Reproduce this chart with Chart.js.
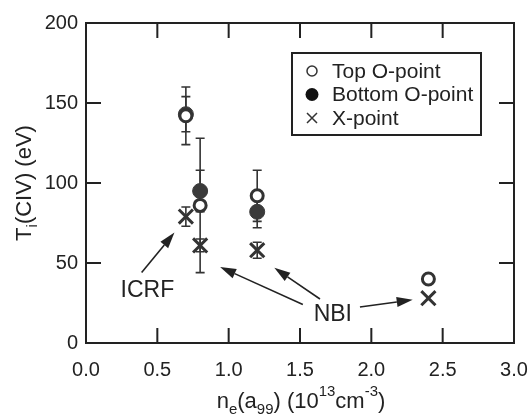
<!DOCTYPE html>
<html>
<head>
<meta charset="utf-8">
<script src="https://cdn.jsdelivr.net/npm/chart.js@4/dist/chart.umd.min.js"></script>
<style>
  body { margin: 0; background: #fff; }
</style>
</head>
<body>
<canvas id="myChart" width="531" height="414"></canvas>
<script>
// values: density (1e13 cm^-3) vs Ti(CIV) (eV)
let topX = [0.7, 0.8, 1.2, 2.4]
let topY = [142, 86, 92, 40]
let topErr = [18, 42, 16, 0]

let bottomX = [0.7, 0.8, 1.2]
let bottomY = [143, 95, 82]
let bottomErr = [11, 13, 10]

let xpX = [0.7, 0.8, 1.2, 2.4]
let xpY = [79, 61, 58, 28]
let xpErr = [6, 4, 5, 0]

let legendLabels = ["Top O-point", "Bottom O-point", "X-point"]
let yTicks = [0, 50, 100, 150, 200]

// annotation labels and arrows, in data units
let notes = [
    { text: "ICRF", x: 0.43, y: 33 },
    { text: "NBI", x: 1.73, y: 18 }
]
let arrows = [
    { from: [0.39, 44], to: [0.62, 69] },
    { from: [1.52, 24], to: [0.94, 47.5] },
    { from: [1.64, 27.5], to: [1.32, 47] },
    { from: [1.92, 22.5], to: [2.29, 27] }
]

const ink = '#222'
const markColor = '#333'
const FONT = '"Liberation Sans", Arial, sans-serif'

function pts(xs, ys) {
    return xs.map((x, i) => ({ x: x, y: ys[i] }))
}

function drawRich(ctx, parts, cx, cy, size) {
    let widths = parts.map(p => {
        ctx.font = `${p.s ? size * 0.68 : size}px ${FONT}`
        return ctx.measureText(p.t).width
    })
    let total = widths.reduce((a, b) => a + b, 0)
    let x = cx - total / 2
    ctx.textBaseline = 'middle'
    ctx.textAlign = 'left'
    parts.forEach((p, i) => {
        ctx.font = `${p.s ? size * 0.68 : size}px ${FONT}`
        let dy = p.s == 1 ? -size * 0.45 : (p.s == -1 ? size * 0.35 : 0)
        ctx.fillText(p.t, x, cy + dy)
        x += widths[i]
    })
}

function drawArrow(ctx, x1, y1, x2, y2) {
    let ang = Math.atan2(y2 - y1, x2 - x1)
    let len = 16, half = 5
    let bx = x2 - len * Math.cos(ang), by = y2 - len * Math.sin(ang)
    ctx.beginPath()
    ctx.moveTo(x1, y1)
    ctx.lineTo(bx, by)
    ctx.stroke()
    ctx.beginPath()
    ctx.moveTo(x2, y2)
    ctx.lineTo(bx + half * Math.sin(ang), by - half * Math.cos(ang))
    ctx.lineTo(bx - half * Math.sin(ang), by + half * Math.cos(ang))
    ctx.closePath()
    ctx.fill()
}

const overlay = {
    id: 'overlay',
    beforeDatasetsDraw(chart) {
        let ctx = chart.ctx
        let xs = chart.scales.x, ys = chart.scales.y
        let sets = [[topX, topY, topErr], [bottomX, bottomY, bottomErr], [xpX, xpY, xpErr]]
        ctx.save()
        ctx.strokeStyle = markColor
        ctx.lineWidth = 1.6
        sets.forEach(s => {
            s[0].forEach((x, i) => {
                if (!s[2][i]) return
                let px = xs.getPixelForValue(x)
                let hi = ys.getPixelForValue(s[1][i] + s[2][i])
                let lo = ys.getPixelForValue(s[1][i] - s[2][i])
                ctx.beginPath()
                ctx.moveTo(px, hi); ctx.lineTo(px, lo)
                ctx.moveTo(px - 4.5, hi); ctx.lineTo(px + 4.5, hi)
                ctx.moveTo(px - 4.5, lo); ctx.lineTo(px + 4.5, lo)
                ctx.stroke()
            })
        })
        ctx.restore()
    },
    afterDraw(chart) {
        let ctx = chart.ctx
        let a = chart.chartArea
        let xs = chart.scales.x, ys = chart.scales.y
        ctx.save()

        // frame + inward ticks on all four sides
        ctx.strokeStyle = ink
        ctx.lineWidth = 2
        ctx.strokeRect(a.left, a.top, a.right - a.left, a.bottom - a.top)
        ctx.beginPath()
        xs.ticks.forEach(t => {
            let px = xs.getPixelForValue(t.value)
            ctx.moveTo(px, a.bottom); ctx.lineTo(px, a.bottom - 15)
            ctx.moveTo(px, a.top); ctx.lineTo(px, a.top + 15)
        })
        yTicks.forEach(v => {
            let py = ys.getPixelForValue(v)
            ctx.moveTo(a.left, py); ctx.lineTo(a.left + 15, py)
            ctx.moveTo(a.right, py); ctx.lineTo(a.right - 15, py)
        })
        ctx.stroke()

        // axis titles
        ctx.fillStyle = ink
        drawRich(ctx, [
            { t: 'n' }, { t: 'e', s: -1 }, { t: '(a' }, { t: '99', s: -1 },
            { t: ') (10' }, { t: '13', s: 1 }, { t: 'cm' }, { t: '-3', s: 1 }, { t: ')' }
        ], 301, 402, 22)
        ctx.save()
        ctx.translate(25, 183)
        ctx.rotate(-Math.PI / 2)
        drawRich(ctx, [{ t: 'T' }, { t: 'i', s: -1 }, { t: '(CIV) (eV)' }], 0, 0, 22)
        ctx.restore()

        // annotations
        ctx.font = `23px ${FONT}`
        ctx.textAlign = 'center'
        ctx.textBaseline = 'middle'
        notes.forEach(n => {
            ctx.fillText(n.text, xs.getPixelForValue(n.x), ys.getPixelForValue(n.y))
        })
        ctx.strokeStyle = ink
        ctx.lineWidth = 1.6
        arrows.forEach(r => {
            drawArrow(ctx,
                xs.getPixelForValue(r.from[0]), ys.getPixelForValue(r.from[1]),
                xs.getPixelForValue(r.to[0]), ys.getPixelForValue(r.to[1]))
        })

        // legend box
        let lx = 292, ly = 53
        ctx.lineWidth = 2
        ctx.strokeStyle = ink
        ctx.strokeRect(lx, ly, 189, 82)
        ctx.font = `21px ${FONT}`
        ctx.textAlign = 'left'
        legendLabels.forEach((lab, i) => {
            let cy = ly + 18 + i * 23.5
            let sx = lx + 20
            ctx.fillStyle = ink
            ctx.fillText(lab, lx + 40, cy + 1)
            ctx.strokeStyle = markColor
            ctx.lineWidth = 1.5
            ctx.beginPath()
            if (i == 0) {
                ctx.arc(sx, cy, 5, 0, Math.PI * 2)
                ctx.stroke()
            } else if (i == 1) {
                ctx.fillStyle = '#111'
                ctx.arc(sx, cy, 6.5, 0, Math.PI * 2)
                ctx.fill()
            } else {
                ctx.moveTo(sx - 5, cy - 5); ctx.lineTo(sx + 5, cy + 5)
                ctx.moveTo(sx + 5, cy - 5); ctx.lineTo(sx - 5, cy + 5)
                ctx.stroke()
            }
        })
        ctx.restore()
    }
}

new Chart("myChart", {
    type: "scatter",
    data: {
        datasets: [{
            label: legendLabels[0],
            data: pts(topX, topY),
            pointStyle: 'circle',
            pointRadius: 6,
            backgroundColor: '#fff',
            borderColor: markColor,
            pointBorderWidth: 3
        }, {
            label: legendLabels[1],
            data: pts(bottomX, bottomY),
            pointStyle: 'circle',
            pointRadius: 7.5,
            backgroundColor: '#3a3a3a',
            borderColor: '#3a3a3a',
            pointBorderWidth: 1
        }, {
            label: legendLabels[2],
            data: pts(xpX, xpY),
            pointStyle: 'crossRot',
            pointRadius: 10,
            borderColor: markColor,
            pointBorderWidth: 3
        }]
    },
    options: {
        responsive: false,
        animation: false,
        layout: { padding: { top: 23, right: 17, left: 0, bottom: 0 } },
        plugins: {
            legend: { display: false },
            tooltip: { enabled: false }
        },
        scales: {
            x: {
                type: 'linear',
                min: 0,
                max: 3,
                ticks: {
                    stepSize: 0.5,
                    padding: 15,
                    color: ink,
                    font: { size: 20, family: FONT },
                    callback: v => v.toFixed(1)
                },
                grid: { display: false, drawTicks: false },
                border: { display: false },
                afterFit: s => {
                    s.height = 71
                    s.paddingLeft = 0
                    s.paddingRight = 0
                }
            },
            y: {
                min: 0,
                max: 200,
                ticks: {
                    stepSize: 50,
                    padding: 8,
                    color: ink,
                    font: { size: 20, family: FONT }
                },
                grid: { display: false, drawTicks: false },
                border: { display: false },
                afterFit: s => {
                    s.width = 86
                    s.paddingTop = 0
                    s.paddingBottom = 0
                }
            }
        }
    },
    plugins: [overlay]
});
</script>
</body>
</html>
